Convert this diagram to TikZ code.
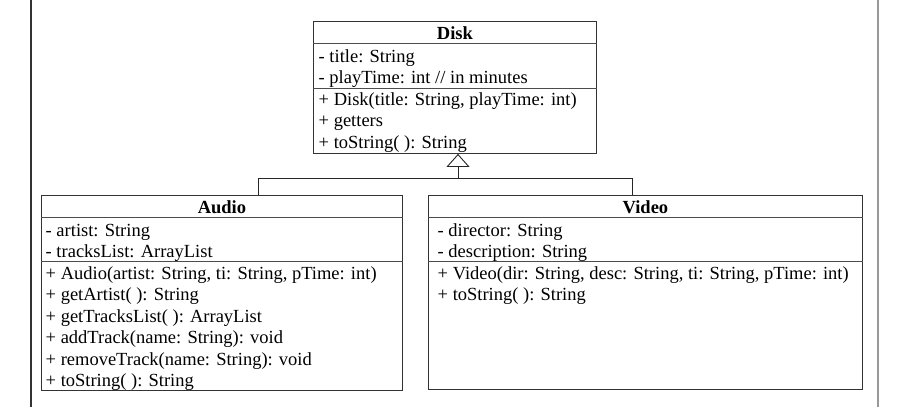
\documentclass[tikz,border=0pt]{standalone}
\usepackage{fontspec}
\setmainfont{Liberation Serif}
\usetikzlibrary{arrows.meta}
\begin{document}
\begin{tikzpicture}[x=1pt,y=-1pt,
  box/.style={draw=black!80, line width=0.9pt, anchor=north west, inner sep=0pt},
  sep/.style={draw=black!70, line width=0.9pt},
  txt/.style={anchor=base west, inner sep=0pt, font=\fontsize{18.5}{20}\selectfont},
  ttl/.style={anchor=base, inner sep=0pt, font=\fontsize{18.5}{20}\selectfont\bfseries},
  conn/.style={draw=black!85, line width=0.9pt},
  ]
\useasboundingbox (0,0) rectangle (906,407);
\fill[white] (0,0) rectangle (906,407);
\draw[black!80, line width=1.2pt] (31,0) -- (31,407);
\draw[black!40, line width=2pt] (877.5,0) -- (877.5,407);

% Disk
\node[box, minimum width=283pt, minimum height=132pt] (disk) at (313,21) {};
\draw[sep] (disk.west |- 0,43) -- (disk.east |- 0,43);
\draw[sep] (disk.west |- 0,88) -- (disk.east |- 0,88);
\node[ttl] (dt) at (disk.north |- 0,39) {Disk};
\node[txt] (d1) at (318.5,62) {- title: String};
\node[txt] (d2) at (318.5,83.5) {- playTime: int // in minutes};
\node[txt] (d3) at (318.5,105) {+ Disk(title: String, playTime: int)};
\node[txt] (d4) at (318.5,126.5) {+ getters};
\node[txt] (d5) at (318.5,148) {+ toString( ): String};

% Audio
\node[box, minimum width=361pt, minimum height=195pt] (audio) at (41,195) {};
\draw[sep] (audio.west |- 0,217) -- (audio.east |- 0,217);
\draw[sep] (audio.west |- 0,261) -- (audio.east |- 0,261);
\node[ttl] (at) at (audio.north |- 0,213) {Audio};
\node[txt] (a1) at (45.5,236) {- artist: String};
\node[txt] (a2) at (45.5,257.5) {- tracksList: ArrayList};
\node[txt] (a3) at (45.5,279) {+ Audio(artist: String, ti: String, pTime: int)};
\node[txt] (a4) at (45.5,300.5) {+ getArtist( ): String};
\node[txt] (a5) at (45.5,322) {+ getTracksList( ): ArrayList};
\node[txt] (a6) at (45.5,343.5) {+ addTrack(name: String): void};
\node[txt] (a7) at (45.5,365) {+ removeTrack(name: String): void};
\node[txt] (a8) at (45.5,386) {+ toString( ): String};

% Video
\node[box, minimum width=434pt, minimum height=194pt] (video) at (428,195) {};
\draw[sep] (video.west |- 0,217) -- (video.east |- 0,217);
\draw[sep] (video.west |- 0,261) -- (video.east |- 0,261);
\node[ttl] (vt) at (video.north |- 0,213) {Video};
\node[txt] (v1) at (437.5,236) {- director: String};
\node[txt] (v2) at (437.5,257.5) {- description: String};
\node[txt] (v3) at (437.5,279) {+ Video(dir: String, desc: String, ti: String, pTime: int)};
\node[txt] (v4) at (437.5,300.5) {+ toString( ): String};

% generalization
\coordinate (bus) at (458,178);
\coordinate (ja) at (258,178);
\coordinate (jv) at (632,178);
\draw[conn] (audio.north -| ja) -- (ja) -- (jv) -- (video.north -| jv);
\draw[conn, -{Triangle[open, length=13pt, width=23pt]}] (bus) -- (disk.south -| bus);
\end{tikzpicture}
\end{document}
